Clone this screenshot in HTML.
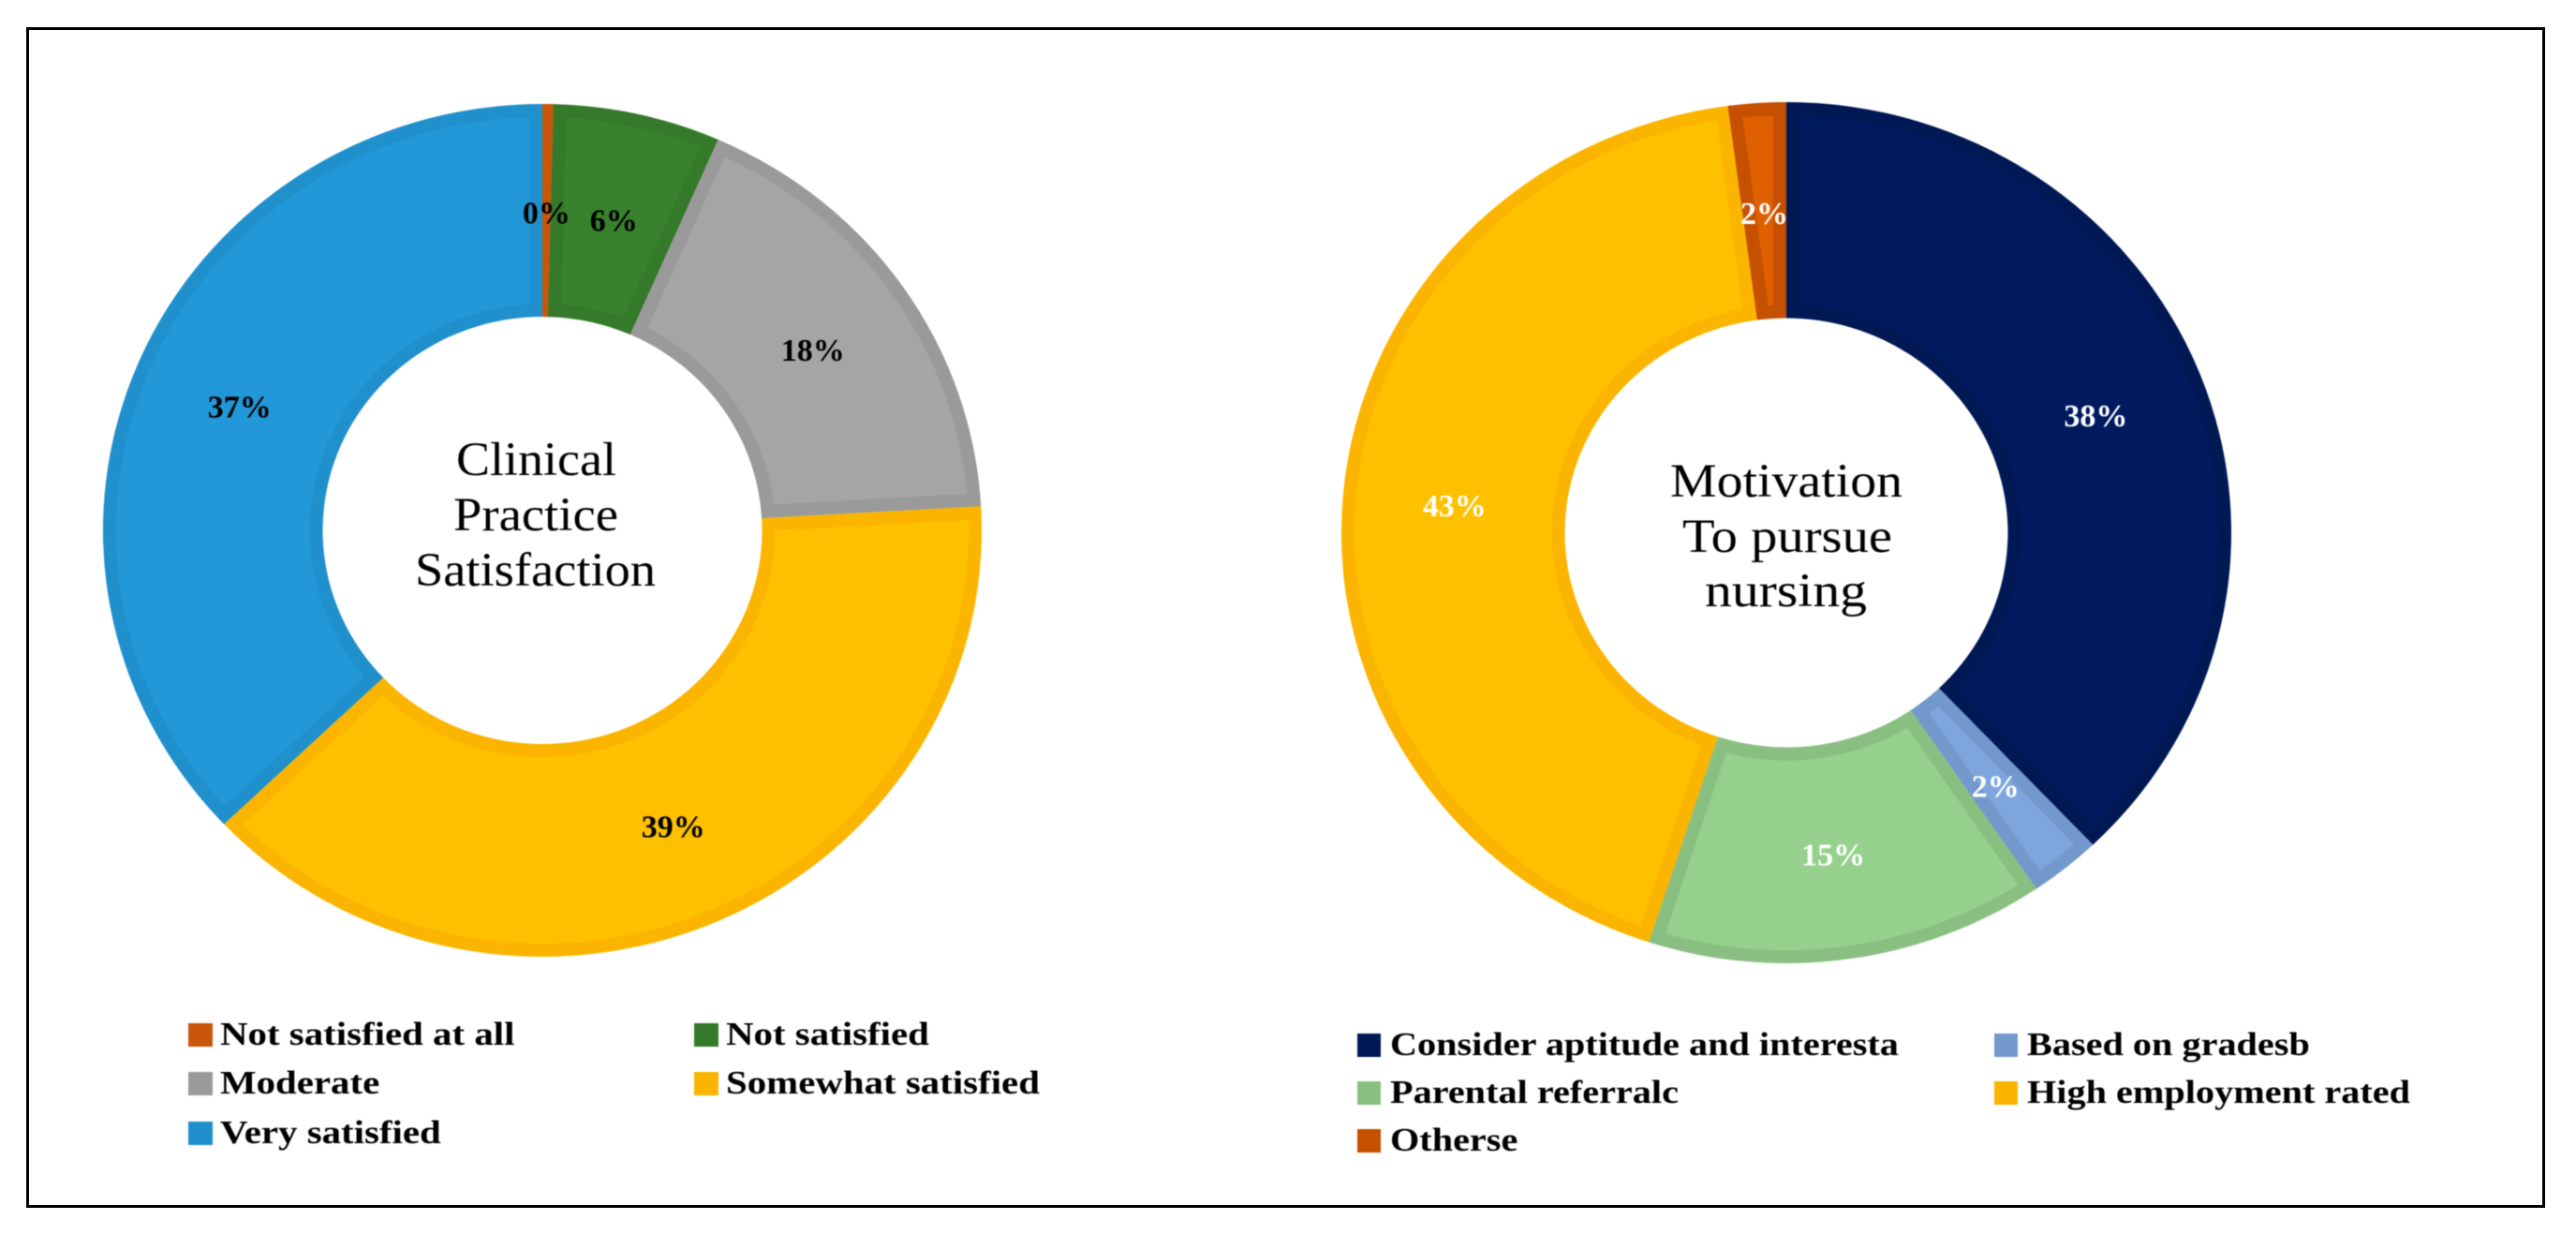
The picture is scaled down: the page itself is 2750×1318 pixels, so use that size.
<!DOCTYPE html>
<html lang="en">
<head>
<meta charset="utf-8">
<title>Clinical practice satisfaction and motivation to pursue nursing</title>
<style>
  html, body { margin: 0; padding: 0; background: #fff; }
  svg { display: block; }
  text { font-family: "Liberation Serif", serif; }
  .legend-text { font-size: 35px; font-weight: bold; fill: #000; }
  .value-label { font-size: 34px; font-weight: bold; }
  .center-text { font-size: 51px; fill: #000; }
  .soft { filter: blur(0.6px); }
</style>
</head>
<body>
<svg id="figure" xmlns="http://www.w3.org/2000/svg" width="2750" height="1318" viewBox="0 0 2750 1318">
  <defs id="clips"></defs>
  <rect x="0" y="0" width="2750" height="1318" fill="#ffffff"/>
  <rect x="29.5" y="30.5" width="2686" height="1257" fill="none" stroke="#000" stroke-width="3"/>

  <g id="left-chart" class="soft"></g>
  <g class="soft">
    <text class="center-text" x="572.5" y="507" text-anchor="middle" textLength="171" lengthAdjust="spacingAndGlyphs">Clinical</text>
    <text class="center-text" x="572" y="566" text-anchor="middle" textLength="176" lengthAdjust="spacingAndGlyphs">Practice</text>
    <text class="center-text" x="571.5" y="625" text-anchor="middle" textLength="257" lengthAdjust="spacingAndGlyphs">Satisfaction</text>
  </g>
  <g id="left-legend" class="soft"></g>

  <g id="right-chart" class="soft"></g>
  <g class="soft">
    <text class="center-text" x="1907" y="530" text-anchor="middle" textLength="248" lengthAdjust="spacingAndGlyphs">Motivation</text>
    <text class="center-text" x="1908" y="589" text-anchor="middle" textLength="224" lengthAdjust="spacingAndGlyphs">To pursue</text>
    <text class="center-text" x="1906.5" y="647" text-anchor="middle" textLength="173" lengthAdjust="spacingAndGlyphs">nursing</text>
  </g>
  <g id="right-legend" class="soft"></g>
</svg>

<script>
// ---- Chart data ----
const satisfactionCategories = ["Not satisfied at all", "Not satisfied", "Moderate", "Somewhat satisfied", "Very satisfied"];
const satisfactionValues = [0.4, 6.15, 17.55, 38.8, 37.1];
const satisfactionLabels = ["0%", "6%", "18%", "39%", "37%"];

const motivationCategories = ["Consider aptitude and interesta", "Based on gradesb", "Parental referralc", "High employment rated", "Otherse"];
const motivationValues = [37.9, 2.6, 14.5, 42.9, 2.1];
const motivationLabels = ["38%", "2%", "15%", "43%", "2%"];

// ---- Styling ----
const satisfactionFills = ["#c55a11", "#38812d", "#a5a5a5", "#ffc000", "#2298d8"];
const satisfactionEdges = ["#c9560a", "#357a2a", "#9a9a9a", "#fbb500", "#2090cc"];
const motivationFills = ["#001a5e", "#7ea6dc", "#95d18c", "#ffc000", "#e06000"];
const motivationEdges = ["#001955", "#7398cc", "#89c081", "#fbb500", "#c55000"];

const NS = "http://www.w3.org/2000/svg";
const clips = document.getElementById("clips");
let clipCount = 0;

function make(tag, attrs, parent) {
  const el = document.createElementNS(NS, tag);
  for (const key in attrs) el.setAttribute(key, attrs[key]);
  parent.appendChild(el);
  return el;
}

function ringPoint(geo, rx, ry, share) {
  const a = share / geo.total * 2 * Math.PI;
  return [geo.cx + rx * Math.sin(a), geo.cy - ry * Math.cos(a)];
}

function slicePath(geo, from, to) {
  const large = (to - from) / geo.total > 0.5 ? 1 : 0;
  const p1 = ringPoint(geo, geo.rx, geo.ry, from);
  const p2 = ringPoint(geo, geo.rx, geo.ry, to);
  const p3 = ringPoint(geo, geo.irx, geo.iry, to);
  const p4 = ringPoint(geo, geo.irx, geo.iry, from);
  return "M" + p1[0] + " " + p1[1] +
    " A" + geo.rx + " " + geo.ry + " 0 " + large + " 1 " + p2[0] + " " + p2[1] +
    " L" + p3[0] + " " + p3[1] +
    " A" + geo.irx + " " + geo.iry + " 0 " + large + " 0 " + p4[0] + " " + p4[1] + " Z";
}

function drawDonut(parent, geo, values, labels, fills, edges, labelColor) {
  const total = values.reduce(function (s, v) { return s + v; }, 0);
  geo.total = total;
  let start = 0;
  values.forEach(function (value, i) {
    const end = start + value;
    const d = slicePath(geo, start, end);
    const clipId = "slice-clip-" + (clipCount++);
    const clip = make("clipPath", { id: clipId }, clips);
    make("path", { d: d }, clip);
    const slice = make("path", {
      d: d, fill: fills[i], stroke: edges[i],
      "stroke-width": geo.edge * 2, "clip-path": "url(#" + clipId + ")"
    }, parent);
    
    
    start = end;
  });
  start = 0;
  values.forEach(function (value, i) {
    const mid = start + value / 2;
    const p = ringPoint(geo, (geo.rx + geo.irx) / 2, (geo.ry + geo.iry) / 2, mid);
    const label = make("text", {
      x: p[0], y: p[1] + 14, "text-anchor": "middle", fill: labelColor, "class": "value-label"
    }, parent);
    
    
    label.textContent = labels[i];
    start += value;
  });
}

function drawLegend(parent, cats, fills, layout) {
  cats.forEach(function (cat, i) {
    const col = i % 2;
    const row = Math.floor(i / 2);
    const x = layout.colX[col];
    const base = layout.rowY[row];
    const swatch = make("rect", {
      x: x, y: base - 23, width: layout.swatchW, height: 25, fill: fills[i]
    }, parent);
    
    
    const text = make("text", {
      "class": "legend-text",
      transform: "translate(" + (x + layout.textGap) + " " + base + ") scale(" + layout.textScale + " 1)"
    }, parent);
    
    
    text.textContent = cat;
  });
}

drawDonut(document.getElementById("left-chart"),
  { cx: 579, cy: 566, rx: 469, ry: 455, irx: 234.5, iry: 228, edge: 14 },
  satisfactionValues, satisfactionLabels, satisfactionFills, satisfactionEdges, "#000");

drawDonut(document.getElementById("right-chart"),
  { cx: 1907, cy: 568.5, rx: 475, ry: 459.5, irx: 236.5, iry: 229, edge: 14 },
  motivationValues, motivationLabels, motivationFills, motivationEdges, "#fff");

drawLegend(document.getElementById("left-legend"), satisfactionCategories, satisfactionEdges,
  { colX: [201, 741], rowY: [1115, 1167, 1220], swatchW: 26, textGap: 34, textScale: 1.168 });

drawLegend(document.getElementById("right-legend"), motivationCategories, motivationEdges,
  { colX: [1449, 2129], rowY: [1126, 1177, 1228], swatchW: 25, textGap: 35, textScale: 1.15 });
</script>
</body>
</html>
